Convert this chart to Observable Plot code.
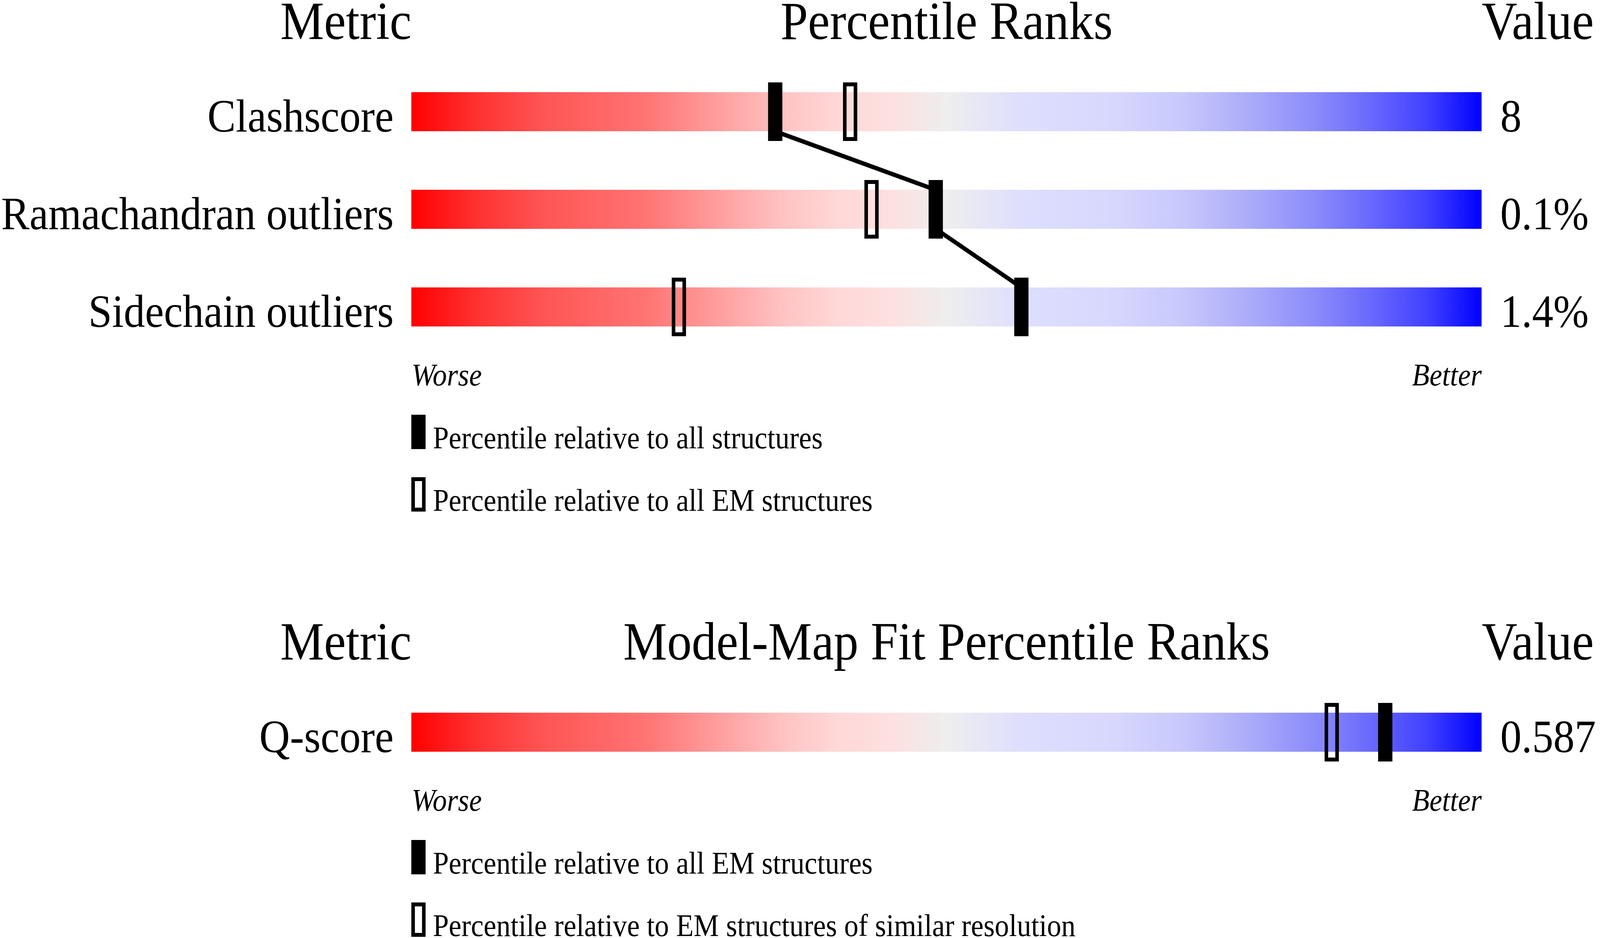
<!DOCTYPE html>
<html lang="en">
<head>
<meta charset="UTF-8">
<title>Percentile ranks</title>
<script src="https://cdn.jsdelivr.net/npm/d3@7"></script>
<script src="https://cdn.jsdelivr.net/npm/@observablehq/plot@0.6"></script>
<style>
  html, body { margin: 0; padding: 0; background: white; overflow: hidden; }
  .section svg { display: block; max-width: none; }
</style>
</head>
<body>
<div id="geometry" class="section"></div>
<div id="fit" class="section"></div>
<script>
// geometry validation
const geoMetrics = ["Clashscore", "Ramachandran outliers", "Sidechain outliers"];
const geoValues = ["8", "0.1%", "1.4%"];
const geoPctAll = [34, 49, 57];
const geoPctEM = [41, 43, 25];
const geoLegend = ["Percentile relative to all structures", "Percentile relative to all EM structures"];

// model-map fit
const fitMetrics = ["Q-score"];
const fitValues = ["0.587"];
const fitPctEM = [91];
const fitPctRes = [86];
const fitLegend = ["Percentile relative to all EM structures", "Percentile relative to EM structures of similar resolution"];

// colours of the worse -> better slider
const gradientStops = [
  [0, "#ff0000"], [0.06, "#ff3030"], [0.125, "#ff5555"], [0.22, "#ff7474"],
  [0.29, "#ffa0a0"], [0.35, "#ffc4c4"], [0.4, "#ffd8d8"], [0.45, "#fde0e0"],
  [0.5, "#eeeeee"], [0.57, "#dedefe"], [0.65, "#d8d8fe"], [0.72, "#c8c8fc"],
  [0.79, "#a8a8fa"], [0.85, "#8888fa"], [0.9, "#6666fe"], [0.95, "#4040ff"],
  [1, "#0000ff"]
];

const font = "'Liberation Serif', 'Times New Roman', serif";
const pageWidth = 4485;
const pageHeight = 2402;

function section(id, title, metrics, values, filled, open, legend, height) {
  const rows = metrics.map((m, i) => ({metric: m, value: values[i], filled: filled[i], open: open[i], row: i}));
  const last = rows.length - 1;
  const links = rows.slice(1).map((d, i) => ({
    x1: rows[i].filled, y1: rows[i].row + 0.2, x2: d.filled, y2: d.row - 0.2
  }));
  const legendRows = legend.map((label, i) => ({
    label, solid: i === 0, top: last + 1.104 + i * 0.64
  }));
  const gradId = id + "-grad";

  const plot = Plot.plot({
    width: pageWidth,
    height: height,
    marginLeft: 1153,
    marginRight: 332,
    marginTop: 0,
    marginBottom: 0,
    style: {fontFamily: font, color: "black", background: "white"},
    x: {domain: [0, 100], axis: null},
    y: {domain: [0, 1], range: [286, 536], axis: null},
    marks: [
      // headers
      Plot.text(["Metric"], {x: 0, frameAnchor: "top", dy: 99, lineAnchor: "bottom", textAnchor: "end", fontSize: 138, fontFamily: font}),
      Plot.text([title], {x: 50, frameAnchor: "top", dy: 99, lineAnchor: "bottom", fontSize: 138, fontFamily: font}),
      Plot.text(["Value"], {x: 100, frameAnchor: "top", dy: 99, lineAnchor: "bottom", textAnchor: "start", fontSize: 138, fontFamily: font}),

      // slider bars
      Plot.rect(rows, {x1: 0, x2: 100, y1: d => d.row - 0.2, y2: d => d.row + 0.2, fill: `url(#${gradId})`}),

      // line joining the "all" percentiles
      Plot.link(links, {x1: "x1", y1: "y1", x2: "x2", y2: "y2", stroke: "black", strokeWidth: 11}),

      // markers
      Plot.rect(rows, {x1: "open", x2: "open", y1: d => d.row - 0.28, y2: d => d.row + 0.28,
        insetLeft: -15, insetRight: -15, fill: "none", stroke: "black", strokeWidth: 10}),
      Plot.rect(rows, {x1: "filled", x2: "filled", y1: d => d.row - 0.3, y2: d => d.row + 0.3,
        insetLeft: -20, insetRight: -20, fill: "black"}),

      // metric names and values
      Plot.text(rows, {x: 0, y: d => d.row + 0.2, text: "metric", dx: -50, lineAnchor: "bottom", textAnchor: "end", fontSize: 119, fontFamily: font}),
      Plot.text(rows, {x: 100, y: d => d.row + 0.2, text: "value", dx: 52, lineAnchor: "bottom", textAnchor: "start", fontSize: 119, fontFamily: font}),

      // worse / better
      Plot.text(["Worse"], {x: 0, y: last + 0.2, dy: 150, lineAnchor: "bottom", textAnchor: "start", fontSize: 80, fontStyle: "italic", fontFamily: font}),
      Plot.text(["Better"], {x: 100, y: last + 0.2, dy: 150, lineAnchor: "bottom", textAnchor: "end", fontSize: 80, fontStyle: "italic", fontFamily: font}),

      // legend
      Plot.rect(legendRows.filter(d => d.solid), {x1: 0, x2: 0, y1: "top", y2: d => d.top + 0.352,
        insetLeft: 0, insetRight: -40, fill: "black"}),
      Plot.rect(legendRows.filter(d => !d.solid), {x1: 0, x2: 0, y1: d => d.top + 0.02, y2: d => d.top + 0.332,
        insetLeft: 5, insetRight: -35, fill: "none", stroke: "black", strokeWidth: 10}),
      Plot.text(legendRows, {x: 0, y: d => d.top + 0.352, text: "label", dx: 60, dy: -3, lineAnchor: "bottom", textAnchor: "start", fontSize: 80, fontFamily: font})
    ]
  });

  const defs = d3.select(plot).insert("defs", ":first-child");
  defs.append("linearGradient")
      .attr("id", gradId)
    .selectAll("stop")
    .data(gradientStops)
    .join("stop")
      .attr("offset", d => d[0])
      .attr("stop-color", d => d[1]);

  // the window may be narrower than the 4485px design: stretch to fill it
  plot.setAttribute("preserveAspectRatio", "none");
  plot.style.width = "100vw";
  plot.style.height = (height / pageHeight * 100) + "vh";

  document.querySelector("#" + id).append(plot);
}

section("geometry", "Percentile Ranks", geoMetrics, geoValues, geoPctAll, geoPctEM, geoLegend, 1589);
section("fit", "Model-Map Fit Percentile Ranks", fitMetrics, fitValues, fitPctEM, fitPctRes, fitLegend, 813);
</script>
</body>
</html>
